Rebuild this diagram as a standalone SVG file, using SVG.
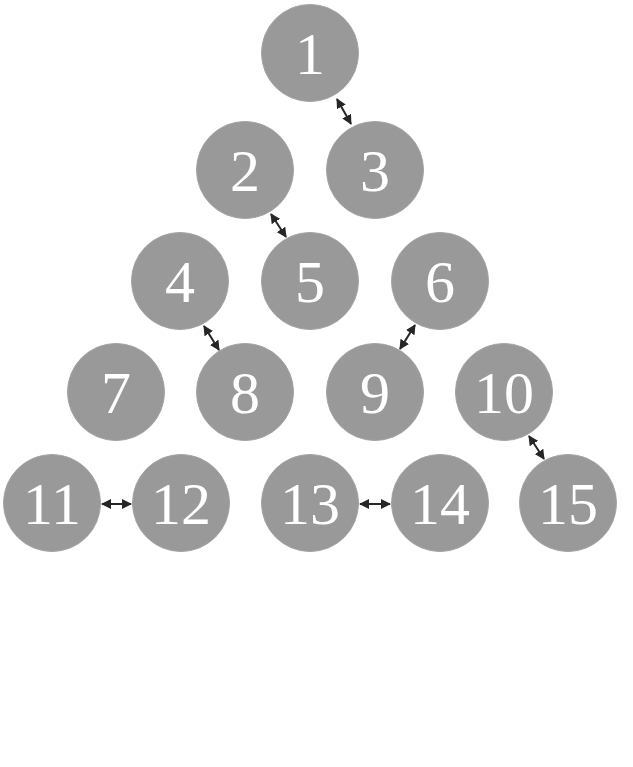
<svg xmlns="http://www.w3.org/2000/svg" width="633" height="767" viewBox="0 0 633 767">
<style>
.n circle{fill:#999999;stroke:#a3a3a3;stroke-width:1}
.n text{fill:#ffffff;font-family:"Liberation Serif","Times New Roman",serif;font-size:60px;text-anchor:middle}
.c line{stroke:#262626;stroke-width:2;marker-start:url(#ah);marker-end:url(#ah)}
</style>
<defs>
<marker id="ah" viewBox="0 0 10 10" refX="9" refY="5" markerWidth="5" markerHeight="5" orient="auto-start-reverse" markerUnits="strokeWidth">
<path d="M0,0 L10,5 L0,10 Z" fill="#262626"/>
</marker>
</defs>
<rect width="633" height="767" fill="#ffffff"/>
<g id="node1" class="n"><circle cx="310" cy="53" r="48.5"/><text x="310" y="74">1</text></g>
<g id="node2" class="n"><circle cx="245" cy="170" r="48.5"/><text x="245" y="191">2</text></g>
<g id="node3" class="n"><circle cx="375" cy="170" r="48.5"/><text x="375" y="191">3</text></g>
<g id="node4" class="n"><circle cx="180" cy="281" r="48.5"/><text x="180" y="302">4</text></g>
<g id="node5" class="n"><circle cx="310" cy="281" r="48.5"/><text x="310" y="302">5</text></g>
<g id="node6" class="n"><circle cx="440" cy="281" r="48.5"/><text x="440" y="302">6</text></g>
<g id="node7" class="n"><circle cx="116" cy="392" r="48.5"/><text x="116" y="413">7</text></g>
<g id="node8" class="n"><circle cx="245" cy="392" r="48.5"/><text x="245" y="413">8</text></g>
<g id="node9" class="n"><circle cx="375" cy="392" r="48.5"/><text x="375" y="413">9</text></g>
<g id="node10" class="n"><circle cx="504" cy="392" r="48.5"/><text x="504" y="413">10</text></g>
<g id="node11" class="n"><circle cx="52" cy="503" r="48.5"/><text x="52" y="524">11</text></g>
<g id="node12" class="n"><circle cx="181" cy="503" r="48.5"/><text x="181" y="524">12</text></g>
<g id="node13" class="n"><circle cx="310" cy="503" r="48.5"/><text x="310" y="524">13</text></g>
<g id="node14" class="n"><circle cx="440" cy="503" r="48.5"/><text x="440" y="524">14</text></g>
<g id="node15" class="n"><circle cx="568" cy="503" r="48.5"/><text x="568" y="524">15</text></g>
<g id="connectors" class="c">
<line x1="337" y1="99" x2="351" y2="124"/>
<line x1="271" y1="214" x2="286" y2="237"/>
<line x1="204" y1="326" x2="219" y2="350"/>
<line x1="415" y1="325" x2="400" y2="349"/>
<line x1="529" y1="436" x2="544" y2="459"/>
<line x1="102" y1="504" x2="131" y2="504"/>
<line x1="360" y1="504" x2="390" y2="504"/>
</g>
</svg>
